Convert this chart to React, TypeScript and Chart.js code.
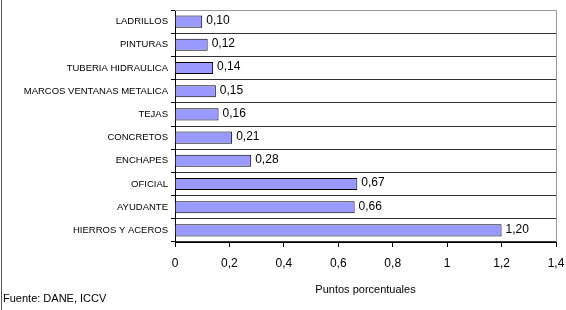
import React, { useEffect, useRef } from "react";
import { Chart, registerables } from "chart.js";

Chart.register(...registerables);

const categories = [
  "LADRILLOS",
  "PINTURAS",
  "TUBERIA HIDRAULICA",
  "MARCOS VENTANAS METALICA",
  "TEJAS",
  "CONCRETOS",
  "ENCHAPES",
  "OFICIAL",
  "AYUDANTE",
  "HIERROS Y ACEROS",
];
const values = [0.1, 0.12, 0.14, 0.15, 0.16, 0.21, 0.28, 0.67, 0.66, 1.2];
const xTicks = [0, 0.2, 0.4, 0.6, 0.8, 1, 1.2, 1.4];
const xTitle = "Puntos porcentuales";
const sourceNote = "Fuente: DANE, ICCV";

const FONT = "'Liberation Sans', Arial, sans-serif";

const fmt = (v: number, d: number) => v.toFixed(d).replace(".", ",");

const extras = {
  id: "extras",
  afterDatasetsDraw(chart: any) {
    const { ctx, chartArea } = chart;
    const meta = chart.getDatasetMeta(0);
    ctx.save();
    ctx.font = `12px ${FONT}`;
    ctx.fillStyle = "#000";
    ctx.textBaseline = "middle";
    ctx.textAlign = "left";
    meta.data.forEach((bar: any, i: number) => {
      ctx.fillText(fmt(values[i], 2), bar.x + 4, bar.y - 1);
    });
    // plot area top and right border
    ctx.strokeStyle = "#999";
    ctx.lineWidth = 1;
    ctx.beginPath();
    ctx.moveTo(chartArea.left, Math.round(chartArea.top) + 0.5);
    ctx.lineTo(Math.round(chartArea.right) + 0.5, Math.round(chartArea.top) + 0.5);
    ctx.lineTo(Math.round(chartArea.right) + 0.5, chartArea.bottom);
    ctx.stroke();
    ctx.restore();
  },
  afterDraw(chart: any) {
    const { ctx } = chart;
    ctx.save();
    ctx.strokeStyle = "#555";
    ctx.lineWidth = 1;
    ctx.beginPath();
    ctx.moveTo(1.5, 0);
    ctx.lineTo(1.5, chart.height);
    ctx.stroke();
    ctx.font = `11px ${FONT}`;
    ctx.fillStyle = "#000";
    ctx.textAlign = "left";
    ctx.textBaseline = "middle";
    ctx.fillText(sourceNote, 3, 299);
    ctx.restore();
  },
};

export default function App() {
  const ref = useRef<HTMLCanvasElement | null>(null);
  useEffect(() => {
    if (!ref.current) return;
    const chart = new Chart(ref.current, {
      type: "bar",
      data: {
        labels: categories,
        datasets: [
          {
            data: values,
            backgroundColor: "#9999ff",
            borderColor: "#000",
            borderWidth: 1,
            barPercentage: 0.52,
            categoryPercentage: 1,
          },
        ],
      },
      options: {
        indexAxis: "y",
        animation: false,
        responsive: false,
        maintainAspectRatio: false,
        layout: { padding: { left: 0, top: 10, right: 10, bottom: 0 } },
        plugins: { legend: { display: false }, tooltip: { enabled: false } },
        scales: {
          x: {
            min: 0,
            max: 1.4,
            afterBuildTicks: (s: any) => {
              s.ticks = xTicks.map((v) => ({ value: v }));
            },
            afterFit: (s: any) => {
              s.height = 68;
              s.paddingLeft = 0;
              s.paddingRight = 0;
            },
            border: { color: "#000", width: 1 },
            grid: {
              drawOnChartArea: false,
              drawTicks: true,
              tickLength: 5,
              tickColor: "#000",
            },
            ticks: {
              color: "#000",
              padding: 9,
              maxRotation: 0,
              font: { family: FONT, size: 12 },
              callback: (v: any) => String(v).replace(".", ","),
            },
            title: {
              display: true,
              text: xTitle,
              color: "#000",
              font: { family: FONT, size: 11 },
              padding: { top: 0, bottom: 13 },
            },
          },
          y: {
            afterFit: (s: any) => {
              s.width = 175;
              s.paddingTop = 0;
              s.paddingBottom = 0;
            },
            offset: true,
            border: { color: "#000", width: 1 },
            grid: {
              offset: true,
              color: "#333",
              tickColor: "#000",
              tickLength: 4,
              drawTicks: true,
            },
            ticks: {
              color: "#000",
              padding: 3,
              font: { family: FONT, size: 9.5 },
              autoSkip: false,
            },
          },
        },
      },
      plugins: [extras],
    });
    return () => chart.destroy();
  }, []);
  return (
    <div style={{ position: "absolute", left: 0, top: 0, width: 566, height: 310, background: "#fff" }}>
      <canvas ref={ref} width={566} height={310} style={{ width: 566, height: 310 }} />
    </div>
  );
}
